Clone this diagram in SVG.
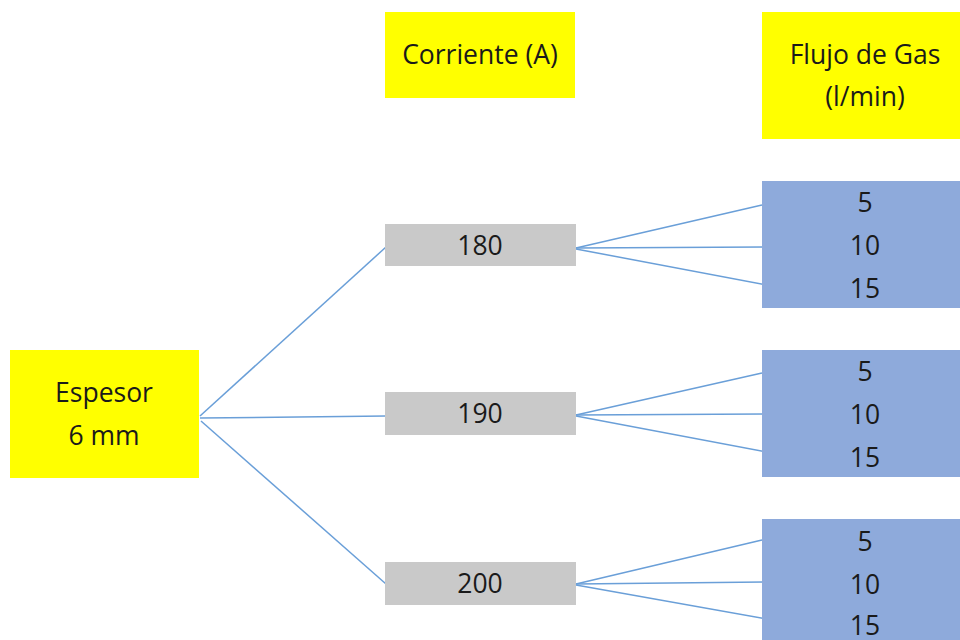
<svg xmlns="http://www.w3.org/2000/svg" width="960" height="640" viewBox="0 0 960 640">
<style>
.y{fill:#FFFF00}
.g{fill:#C9C9C9}
.b{fill:#8EAADB}
text{font-family:"Open Sans","Liberation Sans",sans-serif;font-size:26.5px;fill:#1a1a1a;text-anchor:middle;dominant-baseline:central}
.c line{stroke:#6A9FD8;stroke-width:1.5}
</style>
<rect width="960" height="640" fill="#fff"/>
<g class="c" id="connectors">
<line x1="200" y1="416" x2="386" y2="247"/>
<line x1="200" y1="418" x2="386" y2="416"/>
<line x1="201" y1="421" x2="386" y2="584"/>
<line x1="576" y1="248" x2="762" y2="205"/>
<line x1="576" y1="248" x2="772" y2="247"/>
<line x1="576" y1="249" x2="767" y2="285"/>
<line x1="576" y1="415" x2="762" y2="373"/>
<line x1="576" y1="415" x2="772" y2="414"/>
<line x1="576" y1="416" x2="767" y2="452"/>
<line x1="576" y1="584" x2="762" y2="540"/>
<line x1="576" y1="584" x2="770" y2="582"/>
<line x1="576" y1="585" x2="767" y2="619"/>
</g>
<g id="h-corriente"><rect class="y" x="385" y="12" width="190" height="86"/><text x="480" y="54">Corriente (A)</text></g>
<g id="h-flujo"><rect class="y" x="762" y="12" width="198" height="127"/><text x="865" y="54">Flujo de Gas</text><text x="865" y="96">(l/min)</text></g>
<g id="espesor"><rect class="y" x="10" y="350" width="189" height="128"/><text x="104" y="392">Espesor</text><text x="104" y="435">6 mm</text></g>
<g id="c180"><rect class="g" x="385" y="224" width="191" height="42"/><text x="480" y="245">180</text></g>
<g id="c190"><rect class="g" x="385" y="392" width="191" height="43"/><text x="480" y="413">190</text></g>
<g id="c200"><rect class="g" x="385" y="562" width="191" height="43"/><text x="480" y="583">200</text></g>
<g id="f180"><rect class="b" x="762" y="181" width="198" height="127"/><text x="865" y="202">5</text><text x="865" y="245">10</text><text x="865" y="288">15</text></g>
<g id="f190"><rect class="b" x="762" y="350" width="198" height="127"/><text x="865" y="371">5</text><text x="865" y="414">10</text><text x="865" y="457">15</text></g>
<g id="f200"><rect class="b" x="762" y="519" width="198" height="121"/><text x="865" y="541">5</text><text x="865" y="584">10</text><text x="865" y="625">15</text></g>
</svg>
